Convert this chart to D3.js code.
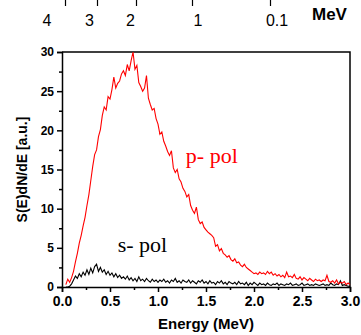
<!DOCTYPE html>
<html>
<head>
<meta charset="utf-8">
<script src="https://cdn.jsdelivr.net/npm/d3@7"></script>
<style>
  body { margin: 0; background: #fff; }
  svg { display: block; }
  .axis text { font-family: "Liberation Sans", Arial, sans-serif; font-weight: bold; fill: #000; }
  .axis path, .axis line { stroke: #000; }
</style>
</head>
<body>
<div id="chart-area"></div>
<script>
// Spectrum data (energy in MeV, signal in a.u.)
const energy = [0.04,0.06,0.08,0.10,0.12,0.14,0.16,0.18,0.20,0.22,0.24,0.26,0.28,0.30,0.32,0.34,0.36,0.38,0.40,0.42,
  0.44,0.46,0.48,0.50,0.52,0.54,0.56,0.58,0.60,0.62,0.64,0.66,0.68,0.70,0.72,0.74,0.76,0.78,0.80,0.82,
  0.84,0.86,0.88,0.90,0.92,0.94,0.96,0.98,1.00,1.02,1.04,1.06,1.08,1.10,1.12,1.14,1.16,1.18,1.20,1.22,
  1.24,1.26,1.28,1.30,1.32,1.34,1.36,1.38,1.40,1.42,1.44,1.46,1.48,1.50,1.52,1.54,1.56,1.58,1.60,1.62,
  1.64,1.66,1.68,1.70,1.72,1.74,1.76,1.78,1.80,1.82,1.84,1.86,1.88,1.90,1.92,1.94,1.96,1.98,2.00,2.02,
  2.04,2.06,2.08,2.10,2.12,2.14,2.16,2.18,2.20,2.22,2.24,2.26,2.28,2.30,2.32,2.34,2.36,2.38,2.40,2.42,
  2.44,2.46,2.48,2.50,2.52,2.54,2.56,2.58,2.60,2.62,2.64,2.66,2.68,2.70,2.72,2.74,2.76,2.78,2.80,2.82,
  2.84,2.86,2.88,2.90,2.92,2.94,2.96,2.98,3.00];

const pPol = [0.3,1.0,0.6,1.2,2.0,3.2,4.3,5.6,6.6,7.8,8.9,10.4,11.8,13.6,15.4,16.9,17.5,19.2,20.1,21.9,
  23.0,22.6,24.3,24.0,25.2,26.8,25.4,26.0,26.3,27.2,27.6,27.0,28.4,27.6,28.9,30.0,27.8,28.3,26.1,25.6,
  25.0,25.4,27.0,24.1,23.3,22.6,22.8,21.5,20.8,19.5,19.8,18.6,18.0,17.3,16.8,17.4,15.2,14.6,15.0,13.8,
  13.4,12.6,12.2,11.5,11.8,10.4,9.8,9.4,10.2,8.6,8.1,8.3,7.6,7.3,7.0,6.8,6.6,6.3,5.2,5.4,
  4.6,4.9,4.3,4.1,3.8,4.0,3.5,3.3,3.6,3.1,3.2,2.8,2.6,2.9,2.5,2.3,2.1,1.9,1.7,1.8,
  1.6,1.9,1.7,1.8,1.6,2.0,1.7,1.9,1.5,1.7,1.4,1.6,1.3,1.5,1.2,1.9,1.3,1.4,1.2,1.6,
  1.1,1.0,1.3,0.9,1.2,1.0,0.8,1.1,0.9,0.7,1.0,0.8,0.9,0.7,0.9,0.8,1.5,0.7,0.6,0.8,
  0.5,0.9,0.4,0.6,0.5,0.7,0.3,0.5,0.3];

const sPol = [0,0,0.1,0.4,0.9,1.4,1.1,1.7,1.3,1.9,1.5,2.2,1.6,2.4,1.8,2.6,2.9,2.0,2.5,1.9,
  2.2,1.6,2.0,1.5,1.8,1.3,1.7,1.2,1.5,1.1,1.3,1.0,1.4,0.9,1.2,0.8,1.1,0.7,1.3,0.8,
  1.0,0.7,1.1,0.8,0.6,1.0,0.7,0.9,0.6,0.9,0.7,1.0,0.6,0.8,0.5,0.9,0.7,1.1,0.6,0.8,
  0.5,0.9,0.7,0.6,0.9,0.5,0.8,0.6,0.4,0.8,0.6,0.9,0.5,0.7,0.4,0.8,0.5,0.6,0.3,0.7,
  0.5,0.8,0.4,0.6,0.3,0.7,0.5,0.4,0.6,0.3,0.7,0.4,0.5,0.3,0.6,0.2,0.5,0.3,0.6,0.4,
  0.2,0.5,0.3,0.4,0.2,0.5,0.3,0.2,0.4,0.3,0.5,0.2,0.4,0.3,0.2,0.4,0.3,0.5,0.2,0.3,
  0.4,0.2,0.3,0.5,0.2,0.3,0.4,0.2,0.3,0.2,0.4,0.3,0.2,0.3,0.4,0.2,0.3,0.2,0.5,0.3,
  0.2,0.4,0.3,0.8,0.2,0.3,0.2,0.1,0.1];

// ticks
const xMajor = [0, 0.5, 1.0, 1.5, 2.0, 2.5, 3.0];
const xMinor = [0.25, 0.75, 1.25, 1.75, 2.25, 2.75];
const yMajor = [0, 5, 10, 15, 20, 25, 30];
const yMinor = [2.5, 7.5, 12.5, 17.5, 22.5, 27.5];
const topTicks = [4, 3, 2, 1, 0.1];
const topLabels = ["4", "3", "2", "1", "0.1"];

let margin = { top: 52, right: 11, bottom: 48, left: 62 };
let width = 361 - margin.left - margin.right,
  height = 335 - margin.top - margin.bottom;

let root = d3.select("#chart-area")
  .append("svg")
  .attr("width", 361)
  .attr("height", 335);

let svg = root.append("g")
  .attr("transform", "translate(" + margin.left + "," + margin.top + ")");

let x = d3.scaleLinear().domain([0, 3]).range([0, width]);
let y = d3.scaleLinear().domain([0, 30]).range([height, 0]);

// frame (top + right)
svg.append("path")
  .attr("d", "M0,0H" + width + "V" + height)
  .attr("fill", "none")
  .attr("stroke", "#000")
  .attr("stroke-width", 1.5);

// x axis
svg.append("g")
  .attr("class", "axis")
  .attr("transform", "translate(0," + height + ")")
  .call(d3.axisBottom(x).tickValues(xMinor).tickSize(3).tickFormat(""))
  .call(g => g.select(".domain").remove())
  .selectAll("line").attr("stroke-width", 1.5);

let xAxis = svg.append("g")
  .attr("class", "axis")
  .attr("transform", "translate(0," + height + ")")
  .call(d3.axisBottom(x).tickValues(xMajor).tickSize(5).tickPadding(4).tickFormat(d3.format(".1f")));
xAxis.select(".domain").attr("stroke-width", 1.5);
xAxis.selectAll("line").attr("stroke-width", 1.5);
xAxis.selectAll("text").style("font-size", "14px");

// y axis
svg.append("g")
  .attr("class", "axis")
  .call(d3.axisLeft(y).tickValues(yMinor).tickSize(3).tickFormat(""))
  .call(g => g.select(".domain").remove())
  .selectAll("line").attr("stroke-width", 1.5);

let yAxis = svg.append("g")
  .attr("class", "axis")
  .call(d3.axisLeft(y).tickValues(yMajor).tickSize(5).tickPadding(3));
yAxis.select(".domain").attr("stroke-width", 1.5);
yAxis.selectAll("line").attr("stroke-width", 1.5);
yAxis.selectAll("text").style("font-size", "12px");

// curves
let line = d3.line()
  .x((d, i) => x(energy[i]))
  .y(d => y(d));

svg.append("path")
  .datum(sPol)
  .attr("d", line)
  .attr("fill", "none")
  .attr("stroke", "#000")
  .attr("stroke-width", 1.1);

svg.append("path")
  .datum(pPol)
  .attr("d", line)
  .attr("fill", "none")
  .attr("stroke", "#ff0000")
  .attr("stroke-width", 1.1);

// labels inside plot
svg.append("text")
  .text("p- pol")
  .attr("x", x(1.29))
  .attr("y", y(15.8))
  .style("font-family", "'Liberation Serif', 'Times New Roman', serif")
  .style("font-size", "22px")
  .style("fill", "#ff0000");

svg.append("text")
  .text("s- pol")
  .attr("x", x(0.58))
  .attr("y", y(4.5))
  .style("font-family", "'Liberation Serif', 'Times New Roman', serif")
  .style("font-size", "22px")
  .style("fill", "#000");

// axis titles
root.append("text")
  .text("Energy (MeV)")
  .attr("x", margin.left + x(1.5))
  .attr("y", 329)
  .attr("text-anchor", "middle")
  .style("font-family", "'Liberation Sans', Arial, sans-serif")
  .style("font-weight", "bold")
  .style("font-size", "15px");

root.append("text")
  .text("S(E)dN/dE [a.u.]")
  .attr("transform", "translate(27," + (margin.top + height / 2) + ") rotate(-90)")
  .attr("text-anchor", "middle")
  .style("font-family", "'Liberation Sans', Arial, sans-serif")
  .style("font-weight", "bold")
  .style("font-size", "14px");

// partial top scale (cut off at the top of the figure)
let topScale = d3.scaleLinear().domain(topTicks).range([65, 97, 136, 192, 270]);
let topLabelScale = d3.scaleLinear().domain(topTicks).range([47, 89.5, 130.5, 198, 277]);

root.append("g")
  .attr("class", "axis")
  .call(d3.axisBottom(topScale).tickValues(topTicks).tickSize(6).tickFormat(""))
  .call(g => g.select(".domain").remove())
  .selectAll("line").attr("stroke-width", 1.2);

root.selectAll(".top-label")
  .data(topTicks)
  .enter()
  .append("text")
  .attr("class", "top-label")
  .attr("x", d => topLabelScale(d))
  .attr("y", 26)
  .attr("text-anchor", "middle")
  .text((d, i) => topLabels[i])
  .style("font-family", "'Liberation Sans', Arial, sans-serif")
  .style("font-size", "16px");

root.append("text")
  .text("MeV")
  .attr("x", 312)
  .attr("y", 20)
  .style("font-family", "'Liberation Sans', Arial, sans-serif")
  .style("font-weight", "bold")
  .style("font-size", "17px");
</script>
</body>
</html>
